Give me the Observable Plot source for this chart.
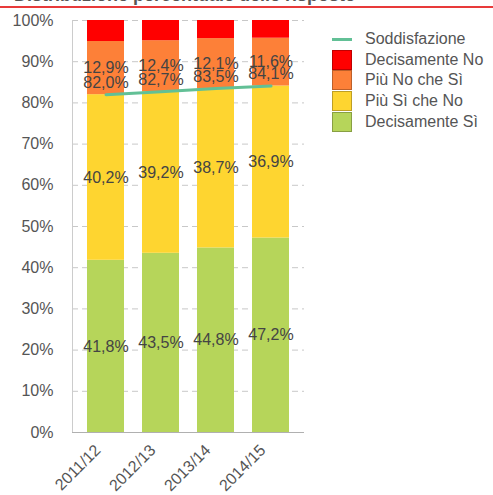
<!DOCTYPE html>
<html><head><meta charset="utf-8">
<script src="https://cdn.jsdelivr.net/npm/d3@7"></script>
<script src="https://cdn.jsdelivr.net/npm/@observablehq/plot@0.6"></script>
<style>
body{margin:0;background:#fff;font-family:"Liberation Sans",Arial,sans-serif;}
#wrap{position:relative;width:493px;height:495px;overflow:hidden;}
#title{position:absolute;top:-15px;left:14px;font-size:18px;font-weight:bold;color:#555;white-space:nowrap;}
#redline{position:absolute;top:6px;left:0;width:493px;height:2px;background:#e83a3a;}
#legend{position:absolute;left:332px;top:29px;font-size:16px;color:#555;}
.row{display:flex;align-items:center;height:20.6px;}
.sw{width:20px;height:20px;box-sizing:border-box;border:1px solid rgba(0,0,0,0.25);margin-right:13px;}
.ln{width:20px;height:3px;margin-right:13px;}
#chart{position:absolute;top:0;left:0;}
</style></head>
<body><div id="wrap"><div id="title">Distribuzione percentuale delle risposte</div><div id="redline"></div><div id="chart"></div><div id="legend"></div></div>
<script>
const years = ["2011/12","2012/13","2013/14","2014/15"];
const series = ["Decisamente Sì","Più Sì che No","Più No che Sì","Decisamente No"];
const colors = ["#b6d55a","#fed530","#fd8038","#ff0000"];
const decisamenteSi = [41.8,43.5,44.8,47.2];
const piuSiCheNo = [40.2,39.2,38.7,36.9];
const piuNoCheSi = [12.9,12.4,12.1,11.6];
const decisamenteNo = [5.1,4.9,4.4,4.3];
const soddisfazione = [82.0,82.7,83.5,84.1];
const lineName = "Soddisfazione";
const lineColor = "#62c096";
const yTicks = [0,10,20,30,40,50,60,70,80,90,100];

const seriesValues = [decisamenteSi, piuSiCheNo, piuNoCheSi, decisamenteNo];
const data = [];
series.forEach((s,i)=>years.forEach((y,j)=>data.push({year:y, series:s, value:seriesValues[i][j]})));
const lineData = years.map((y,j)=>({year:y, value:soddisfazione[j]}));
const fmt = v => v.toFixed(1).replace(".", ",") + "%";

const plot = Plot.plot({
  width:493, height:495,
  marginLeft:72, marginRight:189, marginTop:20, marginBottom:63,
  style:{fontFamily:"Liberation Sans, Arial, sans-serif", background:"transparent"},
  x:{domain:years, paddingInner:0.33, paddingOuter:0.27, label:null},
  y:{domain:[0,100], label:null},
  color:{domain:series, range:colors},
  marks:[
    Plot.ruleY(yTicks.filter(d=>d>0), {stroke:"#c8c8c8", strokeDasharray:"6,4"}),
    Plot.frame({anchor:"left", stroke:"#ccc"}),
    Plot.barY(data, {x:"year", y:"value", fill:"series", z:"series"}),
    Plot.ruleY([0], {stroke:"#b0b0b0"}),
    Plot.axisY({ticks:yTicks, tickSize:0, tickPadding:19, tickFormat:d=>d+"%", fontSize:16, fill:"#555", label:null}),
    Plot.axisX({tickSize:0, tickRotate:-45, tickPadding:15, fontSize:16, fill:"#555", label:null, dx:-8}),
    Plot.text(data, Plot.stackY({x:"year", y:"value", z:"series", text:d=>d.series==="Decisamente No"?"":fmt(d.value), fontSize:16, fill:"#444"})),
    Plot.line(lineData, {x:"year", y:"value", stroke:lineColor, strokeWidth:3}),
    Plot.text(lineData, {x:"year", y:"value", text:d=>fmt(d.value), dy:-12, fontSize:16, fill:"#444"})
  ]
});
document.getElementById("chart").appendChild(plot);

const leg = document.getElementById("legend");
let html = `<div class="row"><div class="ln" style="background:${lineColor}"></div>${lineName}</div>`;
for (let i = series.length-1; i>=0; i--) html += `<div class="row"><div class="sw" style="background:${colors[i]}"></div>${series[i]}</div>`;
leg.innerHTML = html;
</script></body></html>
